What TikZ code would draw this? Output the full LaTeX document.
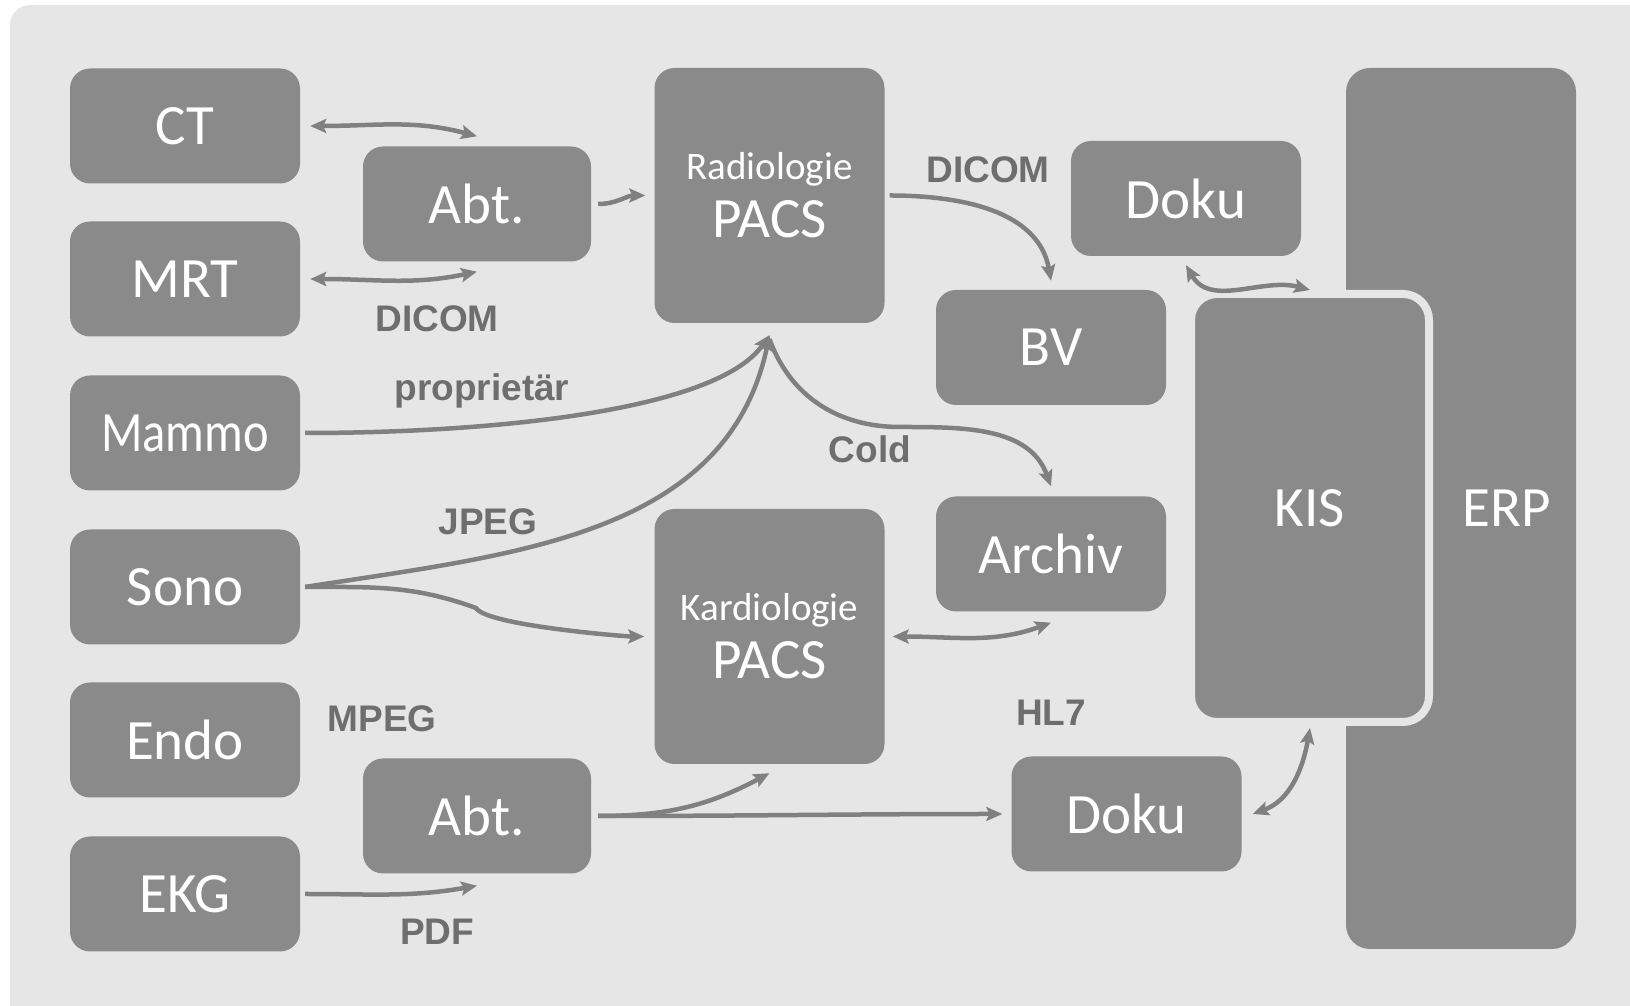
\documentclass[tikz,border=0pt]{standalone}
\usepackage{fontspec}
\setmainfont{Carlito}
\newfontfamily\labelfont{Liberation Sans}
\usetikzlibrary{arrows.meta}

\definecolor{bggray}{HTML}{E6E6E6}
\definecolor{boxgray}{HTML}{8A8A8A}
\definecolor{arrgray}{HTML}{808080}
\definecolor{labgray}{HTML}{6E6E6E}

\tikzset{
  box/.style={fill=boxgray, rounded corners=20pt, minimum width=230pt,
    minimum height=115pt, inner sep=0pt, text=white,
    font=\fontsize{57}{58}\selectfont},
  pacs/.style={box, minimum height=255pt, align=center},
  kis/.style={box, draw=bggray, line width=8pt, minimum width=238pt,
    minimum height=428pt, rounded corners=26pt},
  lbl/.style={text=labgray, anchor=base,
    font=\labelfont\bfseries\fontsize{37}{40}\selectfont},
  arr/.style={draw=arrgray, line width=4.5pt,
    -{Stealth[length=16pt,width=14pt,inset=3pt]}},
  biarr/.style={arr, {Stealth[length=16pt,width=14pt,inset=3pt]}-{Stealth[length=16pt,width=14pt,inset=3pt]}},
}

\begin{document}
\begin{tikzpicture}[x=1pt, y=1pt]
    \useasboundingbox (0,0) rectangle (1630,1006);
    \clip (0,0) rectangle (1630,1006);
    % Hintergrund
    \fill[bggray, rounded corners=20pt] (10,-30) rectangle (1660,1001);

    % Modalitaeten (linke Spalte)
    \node[box] (ct) at (185,880) {CT};
    \node[box] (mrt) at (185,727) {MRT};
    \node[box] (mammo) at (185,573) {\scalebox{0.85}[1]{Mammo}};
    \node[box] (sono) at (185,419) {Sono};
    \node[box] (endo) at (185,266) {Endo};
    \node[box] (ekg) at (185,112) {EKG};

    % Abteilungssysteme
    \node[box, minimum width=228pt] (abtrad) at (477,802) {Abt.};
    \node[box, minimum width=228pt] (abtkard) at (477,190) {Abt.};

    % PACS
    \node[pacs] (radpacs) at (769.5,810.5) {{\fontsize{39}{39}\selectfont Radiologie}\\PACS};
    \node[pacs] (kardpacs) at (769.5,369.5) {{\fontsize{39}{39}\selectfont Kardiologie}\\PACS};

    % Doku, BV, Archiv
    \node[box] (dokuoben) at (1186,807.5) {Doku};
    \node[box] (bv) at (1051,658.5) {BV};
    \node[box] (archiv) at (1051,452) {Archiv};
    \node[box] (dokuunten) at (1126.5,192) {Doku};

    % ERP und KIS (KIS mit hellem Rand ueber ERP, ERP-Text im sichtbaren Teil)
    \node[box, minimum height=881pt, rounded corners=24pt] (erp) at (1461,497.5) {\hspace*{92pt}ERP};
    \node[kis] (kis) at (1310,498) {KIS};

    % Hilfspunkte
    \coordinate (radin) at ([yshift=-12pt]radpacs.south);
    \coordinate (sonoknick) at (476,398);
    \coordinate (coldmitte) at (900,579);

    % Verbindungen
    \draw[biarr] ([xshift=10pt]ct.east) to[out=0,in=165] ([yshift=10pt]abtrad.north);
    \draw[biarr] ([xshift=10pt]mrt.east) to[out=0,in=192] ([yshift=-10pt]abtrad.south);
    \draw[arr] ([xshift=7pt]abtrad.east) to[out=0,in=180] ([xshift=-9pt]radpacs.west);
    \draw[arr] ([xshift=5pt]mammo.east) to[out=0,in=235,in looseness=0.5] (radin);
    \draw[arr] ([xshift=5pt]sono.east) to[out=9,in=258] (radin);
    \draw[arr] ([xshift=5pt]sono.east) to[out=0,in=160] (sonoknick)
        to[out=-60,in=180,looseness=0.3] ([xshift=-10pt]kardpacs.west);
    \draw[arr] ([yshift=-4pt]radin) to[out=-70,in=180] (coldmitte)
        to[out=0,in=110] ([yshift=10pt]archiv.north);
    \draw[arr] ([xshift=5pt]radpacs.east) to[out=0,in=100] ([yshift=9pt]bv.north);
    \draw[biarr] ([yshift=-9pt]dokuoben.south) to[out=-60,in=165] (kis.north);
    \draw[biarr] ([xshift=8pt]kardpacs.east) to[out=0,in=200] ([yshift=-11pt]archiv.south);
    \draw[arr] ([xshift=7pt]abtkard.east) to[out=0,in=208] ([yshift=-9pt]kardpacs.south);
    \draw[arr] ([xshift=7pt]abtkard.east) to[out=0,in=180] ([xshift=-9pt]dokuunten.west);
    \draw[biarr] ([xshift=11pt]dokuunten.east) to[out=20,in=-100] ([yshift=-2pt]kis.south);
    \draw[arr] ([xshift=5pt]ekg.east) to[out=0,in=190] ([yshift=-12pt]abtkard.south);

    % Beschriftungen
    \node[lbl] (lbldicomlinks) at (437,674) {DICOM};
    \node[lbl] (lblproprietaer) at (482,605) {proprietär};
    \node[lbl] (lbljpeg) at (488,471) {JPEG};
    \node[lbl] (lblmpeg) at (382,274) {MPEG};
    \node[lbl] (lblpdf) at (437,61) {PDF};
    \node[lbl] (lbldicomrechts) at (988,823) {DICOM};
    \node[lbl] (lblcold) at (870,543) {Cold};
    \node[lbl] (lblhl7) at (1051,280) {HL7};
\end{tikzpicture}
\end{document}
